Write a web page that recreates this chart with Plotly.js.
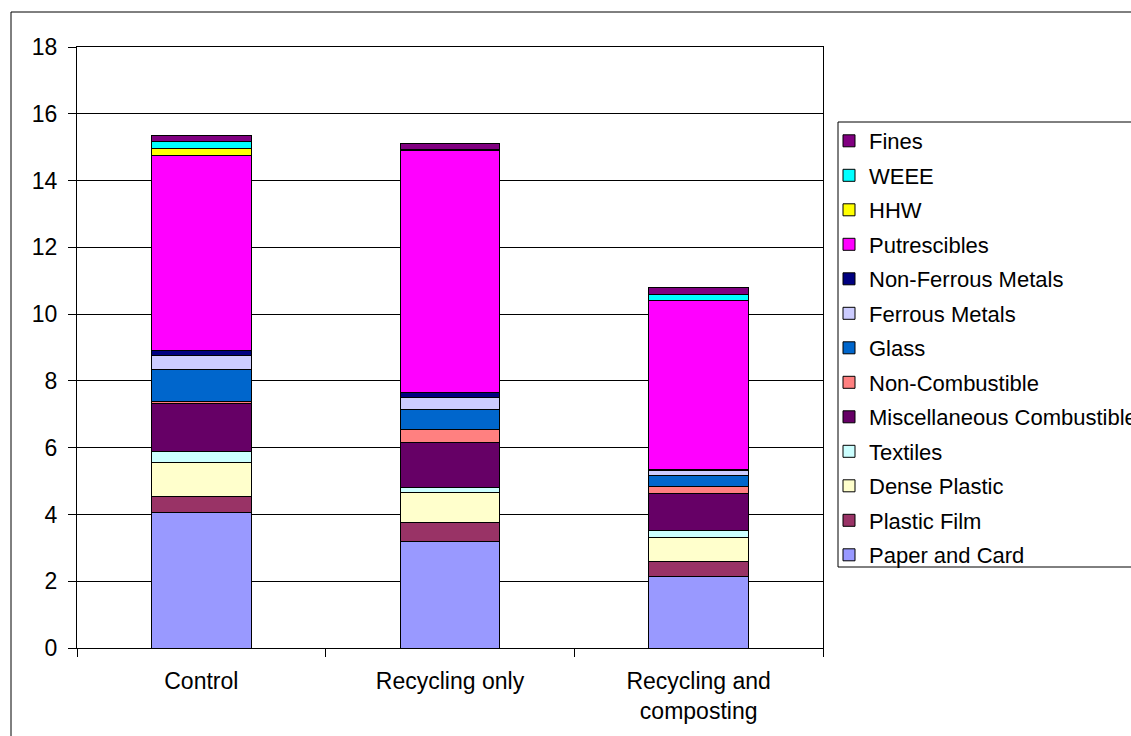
<!DOCTYPE html>
<html>
<head>
<meta charset="utf-8">
<script src="https://cdn.plot.ly/plotly-3.0.1.min.js"></script>
<style>
  html, body { margin: 0; padding: 0; background: #fff; }
  #chart { width: 1131px; height: 736px; }
</style>
</head>
<body>
<div id="chart"></div>
<script>
// Scenario categories along the x axis
const scenarios = ["Control", "Recycling only", "Recycling and<br>composting"];

// Waste fractions, values per scenario (stacked bottom to top)
const paperAndCard        = [4.05, 3.20, 2.13];
const plasticFilm         = [0.50, 0.55, 0.46];
const densePlastic        = [1.00, 0.90, 0.72];
const textiles            = [0.35, 0.17, 0.22];
const miscCombustible     = [1.42, 1.32, 1.10];
const nonCombustible      = [0.07, 0.40, 0.20];
const glass               = [0.95, 0.60, 0.33];
const ferrousMetals       = [0.41, 0.36, 0.16];
const nonFerrousMetals    = [0.17, 0.15, 0.03];
const putrescibles        = [5.82, 7.25, 5.05];
const hhw                 = [0.21, 0.01, 0.01];
const weee                = [0.23, 0.01, 0.18];
const fines               = [0.18, 0.18, 0.21];

const yTickValues = [0, 2, 4, 6, 8, 10, 12, 14, 16, 18];

const series = [
  { name: "Paper and Card",            values: paperAndCard,     color: "#9999FF" },
  { name: "Plastic Film",              values: plasticFilm,      color: "#993366" },
  { name: "Dense Plastic",             values: densePlastic,     color: "#FFFFCC" },
  { name: "Textiles",                  values: textiles,         color: "#CCFFFF" },
  { name: "Miscellaneous Combustible", values: miscCombustible,  color: "#660066" },
  { name: "Non-Combustible",           values: nonCombustible,   color: "#FF8080" },
  { name: "Glass",                     values: glass,            color: "#0066CC" },
  { name: "Ferrous Metals",            values: ferrousMetals,    color: "#CCCCFF" },
  { name: "Non-Ferrous Metals",        values: nonFerrousMetals, color: "#000080" },
  { name: "Putrescibles",              values: putrescibles,     color: "#FF00FF" },
  { name: "HHW",                       values: hhw,              color: "#FFFF00" },
  { name: "WEEE",                      values: weee,             color: "#00FFFF" },
  { name: "Fines",                     values: fines,            color: "#800080" }
];

const font = { family: "Liberation Sans, Arial, sans-serif", size: 23, color: "#000" };
const legendFont = { family: "Liberation Sans, Arial, sans-serif", size: 22, color: "#000" };

// legend lists the top of the stack first
const traces = series.map((s, i) => ({
  type: "bar",
  name: s.name,
  x: scenarios,
  y: s.values,
  legendgroup: s.name,
  legendrank: 1000 - i,
  marker: { color: s.color, line: { color: "#000", width: 1 } },
  hoverinfo: "skip"
}));

// Plot area geometry in pixels
const W = 1131, H = 736;
const M = { l: 77, r: 308, t: 47, b: 88 };
const pw = W - M.l - M.r, ph = H - M.t - M.b;
const px = x => (x - M.l) / pw;
const py = y => (H - M.b - y) / ph;

const layout = {
  width: W,
  height: H,
  margin: { l: M.l, r: M.r, t: M.t, b: M.b, autoexpand: false },
  paper_bgcolor: "#fff",
  plot_bgcolor: "#fff",
  font: font,
  barmode: "stack",
  bargap: 0.6,
  showlegend: true,
  legend: {
    x: px(829), xanchor: "left",
    y: py(120), yanchor: "top",
    traceorder: "grouped",
    tracegroupgap: 2.9,
    bgcolor: "rgba(0,0,0,0)",
    borderwidth: 0,
    font: legendFont,
    itemwidth: 30
  },
  xaxis: {
    type: "category",
    showline: true, linecolor: "#000", linewidth: 1, mirror: true,
    ticks: "outside", tickson: "boundaries", ticklen: 8, tickcolor: "#000",
    ticklabelstandoff: 12,
    showgrid: false,
    tickfont: font
  },
  yaxis: {
    range: [0, 18],
    tickvals: yTickValues,
    showline: true, linecolor: "#000", linewidth: 1, mirror: true,
    ticks: "outside", ticklen: 8, tickcolor: "#000",
    ticklabelstandoff: 6,
    showgrid: true, gridcolor: "#000", gridwidth: 1,
    zeroline: false,
    tickfont: font
  },
  shapes: [
    // outer chart frame
    { type: "rect", xref: "paper", yref: "paper",
      x0: px(11), x1: px(1145), y0: py(750), y1: py(12),
      line: { color: "#000", width: 1 }, layer: "below" },
    // legend frame
    { type: "rect", xref: "paper", yref: "paper",
      x0: px(838), x1: px(1145), y0: py(567), y1: py(122),
      line: { color: "#000", width: 1 } }
  ]
};

Plotly.newPlot("chart", traces, layout, { staticPlot: true, displayModeBar: false });
</script>
</body>
</html>
